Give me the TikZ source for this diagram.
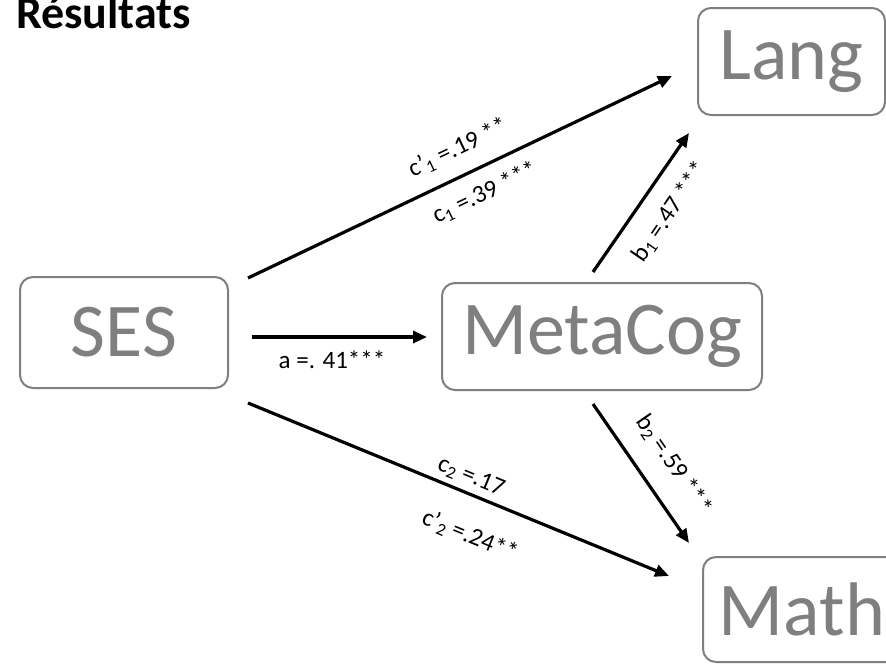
\documentclass[tikz,border=0pt]{standalone}
\usepackage{fontspec}
\setmainfont{Carlito}
\usetikzlibrary{arrows.meta}
\definecolor{boxgray}{HTML}{7F7F7F}
\begin{document}
\begin{tikzpicture}[x=1pt,y=-1pt,
  var/.style={draw=boxgray, line width=2pt, rounded corners=13pt, text=boxgray,
    inner sep=0pt, font=\fontsize{76}{76}\selectfont},
  effect/.style={line width=3.2pt, -{Triangle[length=14pt,width=12pt]}},
  coef/.style={font=\fontsize{25}{25}\selectfont, inner sep=0pt}]
\useasboundingbox (0,0) rectangle (886,664);
\clip (0,0) rectangle (886,664);
\fill[white] (0,0) rectangle (886,664);

% title
\node[anchor=base west, inner sep=0pt, font=\fontsize{46}{46}\selectfont\bfseries] (title) at (16,28) {Résultats};

% variables
\node[var, minimum width=208pt, minimum height=111pt] (ses)  at (124,332.5) {SES};
\node[var, minimum width=320pt, minimum height=107pt] (meta) at (602,336.5) {MetaCog};
\node[var, minimum width=187pt, minimum height=107pt] (lang) at (791.5,61.5) {Lang};
\node[var, minimum width=198pt, minimum height=105pt] (math) at (802,609.5) {Math};

% end points of the paths
\coordinate (sl0) at (248,278); \coordinate (sl1) at (672,76);
\coordinate (sm0) at (252,337); \coordinate (sm1) at (427,337);
\coordinate (ml0) at (593,272); \coordinate (ml1) at (689,133);
\coordinate (mm0) at (593,404); \coordinate (mm1) at (689,543);
\coordinate (sh0) at (248,403); \coordinate (sh1) at (669,576);

% paths
\draw[effect] (sl0) -- (sl1);
\draw[effect] (sm0) -- (sm1);
\draw[effect] (ml0) -- (ml1);
\draw[effect] (mm0) -- (mm1);
\draw[effect] (sh0) -- (sh1);

% coefficients
\node[coef, rotate=25.5] (c1p) at (458,148) {c’\textsubscript{1} =.19 **};
\node[coef, rotate=25.5] (c1)  at (485,193) {c\textsubscript{1} =.39 ***};
\node[coef, rotate=55.5] (b1)  at (670,212) {b\textsubscript{1} =.47 ***};
\node[coef] (a) at (332,360) {a =. 41***};
\node[coef, rotate=-22.3] (c2)  at (471,477) {c\textsubscript{2} =.17};
\node[coef, rotate=-22.3] (c2p) at (470,536) {c’\textsubscript{2} =.24**};
\node[coef, rotate=-55.5] (b2)  at (674,465) {b\textsubscript{2} =.59 ***};
\end{tikzpicture}
\end{document}
